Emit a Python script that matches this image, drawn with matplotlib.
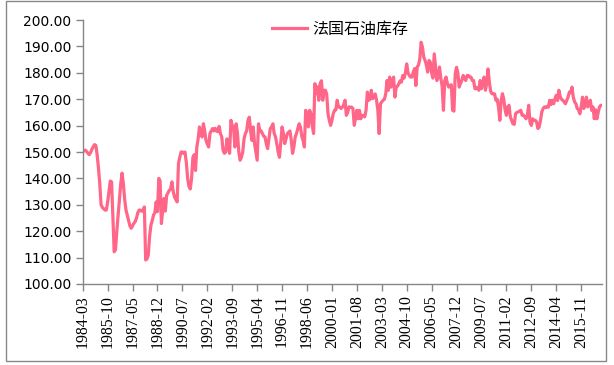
import numpy as np
import pandas as pd
import matplotlib.pyplot as plt
from matplotlib.patches import Rectangle

# monthly stock, 1984-03 .. 2017-03
stock = [
    150.0, 150.5, 150.7, 150.2, 149.5, 149.0, 149.8, 151.0, 152.0, 152.8,          # 1984 (Mar-Dec)
    152.5, 149.0, 144.0, 138.0, 130.0, 129.0, 128.5, 128.0, 128.0, 131.0, 135.0, 139.0,  # 1985
    138.7, 125.0, 112.2, 113.0, 120.0, 126.0, 132.0, 138.0, 142.0, 138.0, 132.0, 128.0,  # 1986
    126.0, 124.0, 122.0, 121.1, 122.0, 123.0, 123.6, 125.0, 127.0, 128.0, 128.0, 127.6,  # 1987
    127.6, 129.2, 109.1, 109.5, 111.0, 118.0, 122.3, 124.0, 126.1, 127.0, 131.1, 127.4,  # 1988
    140.0, 139.0, 122.9, 128.0, 132.4, 127.6, 133.6, 134.5, 135.5, 136.0, 138.7, 135.0,  # 1989
    133.0, 132.0, 131.1, 145.6, 148.0, 150.0, 150.0, 149.5, 150.0, 146.0, 140.0, 137.0,  # 1990
    136.0, 140.0, 148.0, 149.0, 143.0, 151.9, 155.0, 159.5, 157.0, 155.7, 160.7, 158.0,  # 1991
    154.4, 153.0, 151.9, 157.0, 158.0, 158.9, 158.0, 159.0, 158.0, 157.7, 159.7, 157.0,  # 1992
    155.7, 150.7, 149.5, 150.0, 155.0, 152.0, 149.5, 162.0, 160.0, 159.5, 151.9, 160.7,  # 1993
    157.0, 150.0, 146.9, 148.0, 150.0, 155.0, 157.0, 158.0, 162.0, 163.2, 158.0, 154.4,  # 1994
    159.5, 153.2, 150.0, 146.9, 160.7, 158.0, 158.0, 157.0, 156.0, 155.7, 153.0, 151.3,  # 1995
    155.0, 158.9, 159.5, 160.7, 157.0, 155.7, 153.0, 150.0, 148.0, 154.0, 159.5, 157.0,  # 1996
    153.2, 155.0, 157.0, 157.5, 158.0, 154.4, 149.5, 152.0, 155.7, 157.0, 159.0, 160.7,  # 1997
    159.5, 156.0, 154.4, 151.9, 165.8, 164.5, 159.5, 165.8, 164.5, 160.0, 157.0, 175.9,  # 1998
    172.1, 174.7, 169.6, 175.9, 177.0, 169.6, 173.4, 173.4, 172.0, 164.5, 162.0, 160.1,  # 1999
    162.0, 164.5, 165.8, 166.0, 169.6, 167.1, 167.0, 166.5, 167.0, 168.0, 169.6, 163.9,  # 2000
    165.0, 167.1, 167.0, 167.0, 166.5, 160.1, 163.0, 165.8, 162.6, 165.8, 162.6, 163.9,  # 2001
    163.9, 163.3, 165.8, 172.7, 169.6, 170.0, 173.4, 170.2, 171.0, 172.0, 169.6, 165.8,  # 2002
    157.0, 168.3, 169.0, 169.6, 170.0, 172.0, 177.1, 173.4, 178.4, 174.6, 176.0, 178.4,  # 2003
    170.8, 174.6, 175.0, 175.9, 177.0, 176.5, 179.0, 178.0, 180.0, 183.4, 180.0, 179.0,  # 2004
    178.4, 178.4, 180.3, 181.6, 175.2, 182.2, 183.0, 185.3, 191.6, 189.7, 186.0, 184.7,  # 2005
    183.0, 180.3, 184.7, 184.1, 180.0, 178.0, 187.2, 182.2, 177.1, 178.4, 182.2, 178.0,  # 2006
    175.0, 165.8, 177.1, 178.4, 176.0, 174.6, 175.0, 175.5, 165.8, 165.5, 179.6, 182.1,  # 2007
    180.0, 174.6, 176.0, 177.1, 179.0, 178.0, 177.1, 179.0, 179.0, 178.4, 178.4, 177.1,  # 2008
    177.1, 174.0, 174.0, 174.5, 173.4, 177.1, 174.0, 176.0, 178.4, 173.4, 176.0, 181.5,  # 2009
    176.5, 173.0, 172.1, 172.1, 172.0, 169.6, 170.0, 167.0, 162.0, 169.6, 172.1, 170.0,  # 2010
    166.0, 163.9, 167.1, 167.7, 163.3, 162.0, 160.7, 160.5, 164.5, 165.0, 165.2, 165.5,  # 2011
    165.8, 163.9, 164.0, 163.3, 162.6, 164.0, 167.7, 161.3, 160.1, 162.6, 162.0, 162.0,  # 2012
    161.5, 158.9, 159.5, 162.0, 165.2, 166.5, 167.1, 166.8, 167.3, 167.0, 169.6, 168.0,  # 2013
    169.6, 168.3, 170.0, 171.5, 169.5, 173.4, 171.0, 170.0, 169.6, 169.0, 168.3, 169.5,  # 2014
    170.8, 172.7, 172.5, 174.6, 170.8, 169.0, 168.3, 166.5, 166.0, 164.5, 167.1, 170.8,  # 2015
    166.5, 168.0, 170.8, 167.1, 168.0, 169.6, 165.8, 167.1, 162.6, 166.0, 162.6, 165.0,  # 2016
    167.1, 167.7, 167.7,                                                            # 2017
]

tick_labels = ['1984-03', '1985-10', '1987-05', '1988-12', '1990-07', '1992-02',
               '1993-09', '1995-04', '1996-11', '1998-06', '2000-01', '2001-08',
               '2003-03', '2004-10', '2006-05', '2007-12', '2009-07', '2011-02',
               '2012-09', '2014-04', '2015-11']
series_name = '法国石油库存'

months = pd.period_range('1984-03', periods=len(stock), freq='M')
x = np.arange(len(months))

plt.rcParams['font.family'] = ['DejaVu Sans']
fig = plt.figure(figsize=(6.14, 3.65), dpi=100)
ax = fig.add_axes([0.1347, 0.222, 0.846, 0.723])

line_color = '#FF6688'
ax.plot(x, stock, color=line_color, lw=2.3, label=series_name,
        solid_joinstyle='round')

ax.set_xlim(0, len(stock) - 1)
ax.set_ylim(100, 200)
ax.set_yticks(np.arange(100, 201, 10))
ax.set_yticklabels(['{:.2f}'.format(v) for v in np.arange(100, 201, 10)],
                   fontsize=10)

tick_pos = [list(months.strftime('%Y-%m')).index(t) for t in tick_labels]
ax.set_xticks(tick_pos)
ax.set_xticklabels(tick_labels, rotation=90, fontsize=11.3,
                   family='Liberation Serif')

for s in ['top', 'right']:
    ax.spines[s].set_visible(False)
for s in ['left', 'bottom']:
    ax.spines[s].set_color('#868686')
    ax.spines[s].set_linewidth(1)
ax.tick_params(axis='both', color='#868686', length=5, width=1, pad=3)

leg = fig.legend(loc='center', bbox_to_anchor=(340 / 614, 1 - 29 / 365),
                 frameon=False, handlelength=2.2, handletextpad=0.3,
                 prop={'family': ['Noto Sans CJK SC', 'DejaVu Sans'], 'size': 11.5})

# chart border
fig.patches.append(Rectangle((6 / 614, 4 / 365), 600 / 614, 360 / 365,
                             transform=fig.transFigure, fill=False,
                             edgecolor='#888888', lw=1))

fig.savefig('out.png', dpi=100)
